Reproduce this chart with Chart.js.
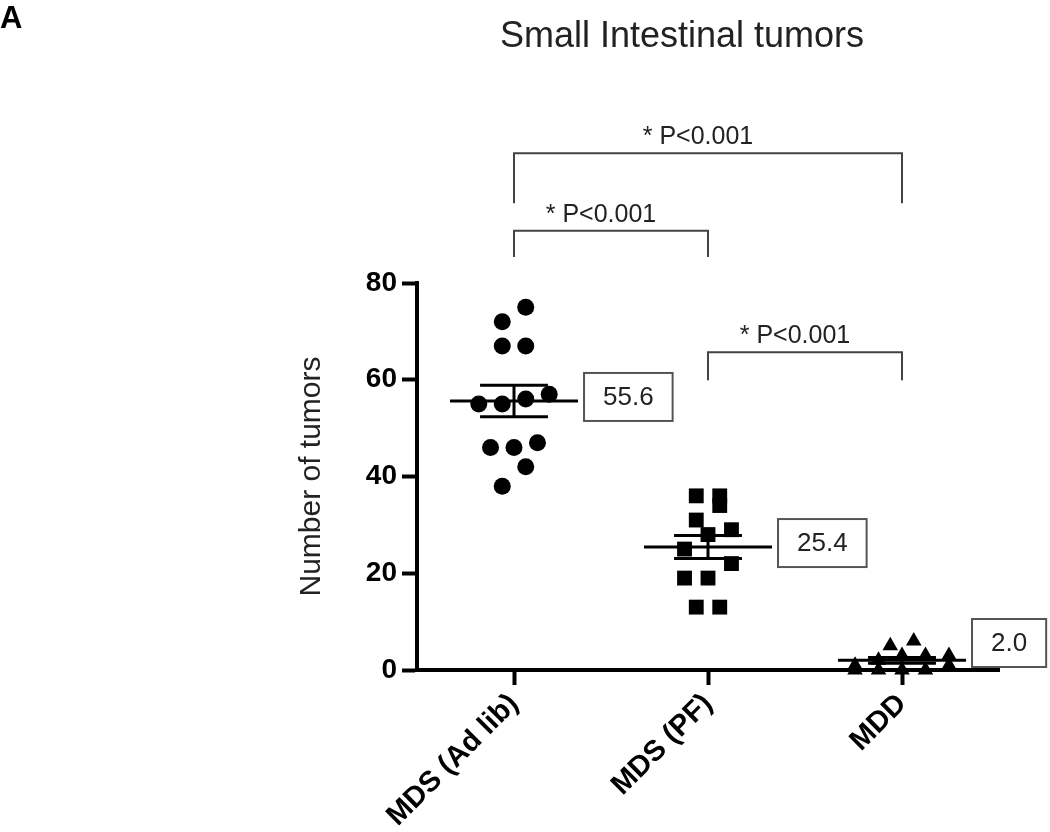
<!DOCTYPE html>
<html>
<head>
<meta charset="utf-8">
<title>Small Intestinal tumors</title>
<script src="https://cdn.jsdelivr.net/npm/chart.js@4.4.0/dist/chart.umd.min.js"></script>
<style>
  html, body { margin: 0; padding: 0; background: #ffffff; }
  #wrap { position: relative; width: 1050px; height: 832px; }
</style>
</head>
<body>
<div id="wrap"><canvas id="tumorChart" width="1050" height="832"></canvas></div>
<script>
// Small intestinal tumor counts per diet group, dot plot with mean +/- SEM,
// value boxes and significance brackets drawn by a small overlay plugin.

var groups = ['MDS (Ad lib)', 'MDS (PF)', 'MDD'];
var adLibCounts = [75, 72, 67, 67, 57, 56, 55, 55, 47, 46, 46, 42, 38];
var pairFedCounts = [36, 36, 34, 31, 29, 28, 25, 22, 19, 19, 13, 13];
var mddCounts = [6, 5, 3, 3, 3, 2, 1, 1, 0, 0, 0, 0];
var yTicks = [0, 20, 40, 60, 80];

// significance comparisons (group index pairs + label)
var compareFrom = [0, 0, 1];
var compareTo = [2, 1, 2];
var compareLabels = ['* P<0.001', '* P<0.001', '* P<0.001'];

var allCounts = [adLibCounts, pairFedCounts, mddCounts];

// ---- style ----
var FONT = '"Liberation Sans", Arial, Helvetica, sans-serif';
var MARKERS = ['circle', 'rect', 'triangle'];
var MARKER_R = [8.5, 10.5, 9];
var SLOT = 0.121;        // horizontal spacing of dots, in category units
var ROW_GAP = 4;         // values closer than this share a row
var ROW_MAX = 5;
var MEAN_HALF = 0.33;
var SEM_HALF = 0.175;
// bracket heights in y units: [bar, leg end]
var BRACKET_Y = [[106.8, 96.5], [90.8, 85.4], [65.7, 59.9]];

function mean(a) {
  var s = 0;
  for (var i = 0; i < a.length; i++) s += a[i];
  return s / a.length;
}

function sem(a) {
  var m = mean(a), ss = 0;
  for (var i = 0; i < a.length; i++) ss += (a[i] - m) * (a[i] - m);
  return Math.sqrt(ss / (a.length - 1)) / Math.sqrt(a.length);
}

// simple Prism-like spread: near-equal values share a row, centred on the group
function spread(values) {
  var idx = values.map(function(v, i) { return i; });
  idx.sort(function(a, b) { return values[a] - values[b]; });
  var offsets = new Array(values.length);
  var row = [];
  function flush() {
    for (var j = 0; j < row.length; j++) offsets[row[j]] = (j - (row.length - 1) / 2) * SLOT;
    row = [];
  }
  idx.forEach(function(k) {
    if (row.length && (values[k] - values[row[0]] > ROW_GAP || row.length >= ROW_MAX)) flush();
    row.push(k);
  });
  flush();
  return offsets;
}

function line(ctx, x1, y1, x2, y2) {
  ctx.beginPath();
  ctx.moveTo(x1, y1);
  ctx.lineTo(x2, y2);
  ctx.stroke();
}

var overlayPlugin = {
  id: 'overlay',
  afterDatasetsDraw: function(chart) {
    var ctx = chart.ctx, xs = chart.scales.x, ys = chart.scales.y;
    ctx.save();

    // mean + SEM bars and value boxes
    allCounts.forEach(function(vals, i) {
      var m = mean(vals), s = sem(vals);
      var cx = xs.getPixelForValue(i);
      var my = ys.getPixelForValue(m);
      var hy = ys.getPixelForValue(m + s);
      var ly = ys.getPixelForValue(m - s);
      var mh = xs.getPixelForValue(i + MEAN_HALF) - cx;
      var sh = xs.getPixelForValue(i + SEM_HALF) - cx;

      ctx.strokeStyle = '#000';
      ctx.lineWidth = 3;
      line(ctx, cx - mh, my, cx + mh, my);
      line(ctx, cx - sh, hy, cx + sh, hy);
      line(ctx, cx - sh, ly, cx + sh, ly);
      line(ctx, cx, hy, cx, ly);

      var txt = m.toFixed(1);
      ctx.font = '26px ' + FONT;
      var bw = ctx.measureText(txt).width + 38, bh = 48;
      var bx = cx + mh + 6;
      var by = Math.min(my - 4, ys.bottom - 27) - bh / 2;
      ctx.fillStyle = '#fff';
      ctx.fillRect(bx, by, bw, bh);
      ctx.strokeStyle = '#555';
      ctx.lineWidth = 2;
      ctx.strokeRect(bx, by, bw, bh);
      ctx.fillStyle = '#222';
      ctx.textAlign = 'center';
      ctx.textBaseline = 'middle';
      ctx.fillText(txt, bx + bw / 2, by + bh / 2 + 1);
    });

    // significance brackets
    ctx.strokeStyle = '#444';
    ctx.lineWidth = 2;
    ctx.font = '25px ' + FONT;
    ctx.fillStyle = '#222';
    ctx.textAlign = 'center';
    ctx.textBaseline = 'alphabetic';
    for (var b = 0; b < compareFrom.length; b++) {
      var x1 = xs.getPixelForValue(compareFrom[b]);
      var x2 = xs.getPixelForValue(compareTo[b]);
      var yb = ys.getPixelForValue(BRACKET_Y[b][0]);
      var yl = ys.getPixelForValue(BRACKET_Y[b][1]);
      ctx.beginPath();
      ctx.moveTo(x1, yl);
      ctx.lineTo(x1, yb);
      ctx.lineTo(x2, yb);
      ctx.lineTo(x2, yl);
      ctx.stroke();
      ctx.fillText(compareLabels[b], (x1 + x2) / 2 - 10, yb - 9);
    }

    // chart title and panel letter
    ctx.font = '36px ' + FONT;
    ctx.fillStyle = '#222';
    ctx.fillText('Small Intestinal tumors', 682, 47);
    ctx.font = 'bold 31px ' + FONT;
    ctx.fillStyle = '#000';
    ctx.textAlign = 'left';
    ctx.fillText('A', 0, 28);

    ctx.restore();
  }
};

var datasets = allCounts.map(function(vals, i) {
  var off = spread(vals);
  return {
    label: groups[i],
    data: vals.map(function(v, k) { return { x: i + off[k], y: v }; }),
    pointStyle: MARKERS[i],
    pointRadius: MARKER_R[i],
    backgroundColor: '#000',
    borderColor: '#000',
    borderWidth: 0,
    clip: false
  };
});

var canvas = document.getElementById('tumorChart');
new Chart(canvas.getContext('2d'), {
  type: 'scatter',
  data: { datasets: datasets },
  options: {
    responsive: false,
    animation: false,
    events: [],
    layout: { padding: { left: 294, top: 283, right: 51, bottom: 0 } },
    plugins: {
      legend: { display: false },
      tooltip: { enabled: false }
    },
    scales: {
      x: {
        type: 'linear',
        min: -0.5,
        max: 2.5,
        afterBuildTicks: function(scale) {
          scale.ticks = groups.map(function(g, i) { return { value: i }; });
        },
        afterFit: function(scale) { scale.height = 162; },
        border: { display: true, width: 4, color: '#000' },
        grid: { drawOnChartArea: false, drawTicks: true, tickLength: 15, tickWidth: 4, color: '#000', tickColor: '#000' },
        ticks: {
          autoSkip: false,
          minRotation: 45,
          maxRotation: 45,
          padding: 2,
          color: '#000',
          font: { family: FONT, size: 29, weight: 'bold' },
          callback: function(v) { return groups[v]; }
        }
      },
      y: {
        min: 0,
        max: 80,
        afterBuildTicks: function(scale) {
          scale.ticks = yTicks.map(function(v) { return { value: v }; });
        },
        afterFit: function(scale) { scale.width = 417 - 294; },
        border: { display: true, width: 4, color: '#000' },
        grid: { drawOnChartArea: false, drawTicks: true, tickLength: 15, tickWidth: 4, color: '#000', tickColor: '#000' },
        ticks: {
          padding: 5,
          color: '#000',
          font: { family: FONT, size: 28, weight: 'bold' }
        },
        title: {
          display: true,
          text: 'Number of tumors',
          color: '#222',
          font: { family: FONT, size: 30 },
          padding: { top: 0, bottom: 0 }
        }
      }
    }
  },
  plugins: [overlayPlugin]
});
</script>
</body>
</html>
